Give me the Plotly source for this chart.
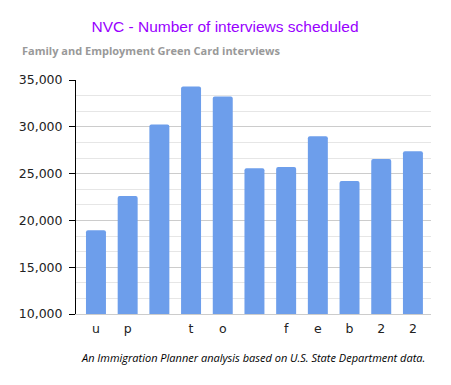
import plotly.graph_objects as go

categories = ["u", "p", "", "t", "o", "", "f", "e", "b", "2", "2"]
values = [18950, 22600, 30250, 34300, 33230, 25560, 25700, 29000, 24200, 26560, 27400]
y_ticks = [10000, 15000, 20000, 25000, 30000, 35000]
y_tick_labels = ["10,000", "15,000", "20,000", "25,000", "30,000", "35,000"]

positions = list(range(len(categories)))

# page has an 8px body margin; figure coords = page coords - 8
W, H = 443, 377
L, R, T, B = 68, 20, 72, 71
PW, PH = W - L - R, H - T - B

fig = go.Figure()
fig.add_trace(go.Bar(
    x=positions, y=values,
    marker=dict(color="#6d9eeb", line=dict(width=0), cornerradius=2),
    width=0.63,
    hoverinfo="y",
))

fig.update_layout(
    width=W, height=H,
    margin=dict(l=L, r=R, t=T, b=B, autoexpand=False),
    paper_bgcolor="white", plot_bgcolor="white",
    showlegend=False,
    title=dict(text="NVC - Number of interviews scheduled",
               font=dict(family="Liberation Sans, Arial", size=15.5, color="#9900ff"),
               x=(225 - 8) / W, xanchor="center", y=1 - (27 - 8) / H, yanchor="middle"),
    annotations=[
        dict(text="<b>Family and Employment Green Card interviews</b>",
             xref="paper", yref="paper", x=(20 - 76) / PW, y=1 + (80 - 50) / PH,
             xanchor="left", yanchor="middle", showarrow=False,
             font=dict(family="Open Sans", size=11, color="#999999")),
        dict(text="<i>An Immigration Planner analysis based on U.S. State Department data.</i>",
             xref="paper", yref="paper", x=(427 - 76) / PW, y=-(357 - 314) / PH,
             xanchor="right", yanchor="middle", showarrow=False,
             font=dict(family="Open Sans", size=11, color="#000000")),
    ],
    xaxis=dict(
        tickmode="array", tickvals=positions, ticktext=categories,
        range=[-0.63, 10.57],
        showline=True, linecolor="#cccccc", linewidth=1,
        ticks="", showgrid=False, zeroline=False,
        ticklabelstandoff=3,
        tickfont=dict(family="DejaVu Sans, Verdana", size=12.5, color="#222222"),
    ),
    yaxis=dict(
        range=[10000, 35000],
        tickmode="array", tickvals=y_ticks, ticktext=y_tick_labels,
        showline=True, linecolor="#000000", linewidth=1,
        ticks="outside", ticklen=6, tickcolor="#000000",
        showgrid=True, gridcolor="#cccccc", gridwidth=1,
        zeroline=False,
        ticklabelstandoff=4,
        minor=dict(dtick=5000 / 3, tick0=10000, showgrid=True, gridcolor="#e6e6e6", ticks=""),
        tickfont=dict(family="DejaVu Sans, Verdana", size=12.5, color="#222222"),
    ),
    bargap=0.37,
)

fig.write_html("out.html")
